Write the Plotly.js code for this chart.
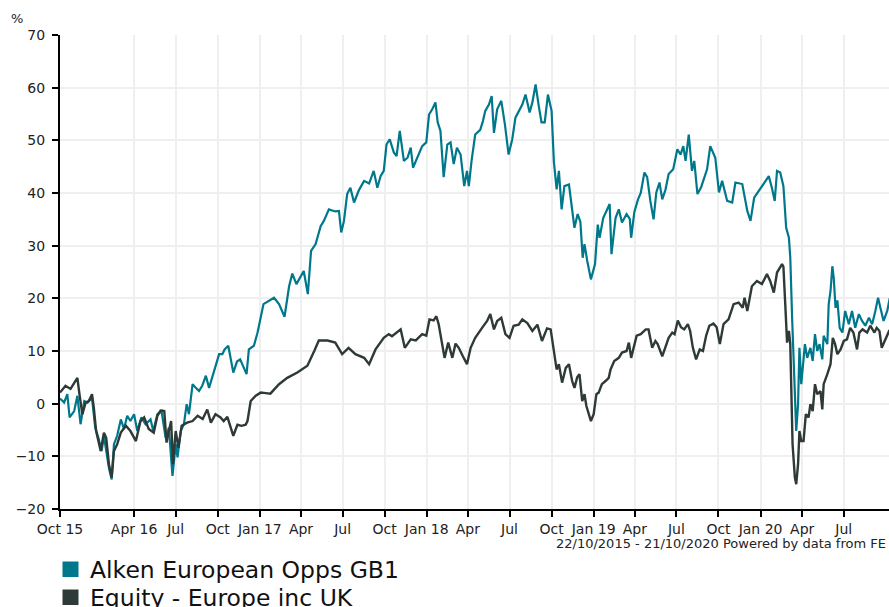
<!DOCTYPE html>
<html>
<head>
<meta charset="utf-8">
<script src="https://cdn.plot.ly/plotly-3.0.1.min.js"></script>
<style>
html,body{margin:0;padding:0;overflow:hidden;background:#fff;}
#chart{width:900px;height:607px;}
</style>
</head>
<body>
<div id="chart"></div>
<script>
// ---- Data ----
const fundName = 'Alken European Opps GB1';
const sectorName = 'Equity - Europe inc UK';

const fundDates = [
'2015-10-22','2015-10-31','2015-11-07','2015-11-12','2015-11-22','2015-11-29','2015-12-06','2015-12-14','2015-12-21','2015-12-31',
'2016-01-07','2016-01-14','2016-01-21','2016-01-26','2016-02-06','2016-02-12','2016-02-17','2016-02-24','2016-03-03','2016-03-10','2016-03-17','2016-03-24','2016-04-01','2016-04-08','2016-04-17','2016-04-26','2016-05-07','2016-05-13','2016-05-22','2016-05-31','2016-06-09','2016-06-16','2016-06-24','2016-07-01','2016-07-05','2016-07-12','2016-07-19','2016-07-25','2016-07-30','2016-08-07','2016-08-14','2016-08-21','2016-08-28','2016-09-05','2016-09-12','2016-09-19','2016-09-26','2016-10-04','2016-10-11','2016-10-16','2016-10-24','2016-11-04','2016-11-12','2016-11-19','2016-12-03','2016-12-08','2016-12-19','2016-12-27',
'2017-01-09','2017-01-24','2017-02-01','2017-02-12','2017-02-24','2017-03-06','2017-03-13','2017-03-22','2017-04-07','2017-04-16','2017-04-23','2017-05-03','2017-05-14','2017-05-21','2017-06-01','2017-06-15','2017-06-23','2017-06-28','2017-07-04','2017-07-11','2017-07-18','2017-07-26','2017-08-06','2017-08-17','2017-08-28','2017-09-07','2017-09-15','2017-09-22','2017-09-29','2017-10-05','2017-10-12','2017-10-21','2017-10-27','2017-11-03','2017-11-12','2017-11-20','2017-11-27','2017-12-02','2017-12-11','2017-12-22','2017-12-31',
'2018-01-06','2018-01-13','2018-01-20','2018-01-25','2018-01-31','2018-02-07','2018-02-15','2018-02-22','2018-03-01','2018-03-08','2018-03-16','2018-03-24','2018-03-30','2018-04-03','2018-04-09','2018-04-17','2018-04-28','2018-05-04','2018-05-09','2018-05-17','2018-05-23','2018-05-28','2018-06-04','2018-06-13','2018-06-21','2018-06-29','2018-07-07','2018-07-14','2018-07-21','2018-07-29','2018-08-05','2018-08-14','2018-08-20','2018-08-27','2018-09-03','2018-09-09','2018-09-16','2018-09-23','2018-10-01','2018-10-06','2018-10-12','2018-10-17','2018-10-23','2018-10-29','2018-11-08','2018-11-13','2018-11-20','2018-11-27','2018-12-03','2018-12-08','2018-12-12','2018-12-18','2018-12-26',
'2019-01-04','2019-01-10','2019-01-14','2019-01-22','2019-01-29','2019-02-05','2019-02-09','2019-02-18','2019-02-25','2019-03-04','2019-03-14','2019-03-21','2019-03-24','2019-03-31','2019-04-08','2019-04-14','2019-04-22','2019-04-28','2019-05-05','2019-05-12','2019-05-18','2019-05-25','2019-05-31','2019-06-07','2019-06-14','2019-06-24','2019-07-03','2019-07-10','2019-07-16','2019-07-21','2019-07-28','2019-08-04','2019-08-09','2019-08-16','2019-08-24','2019-08-31','2019-09-06','2019-09-13','2019-09-20','2019-09-24','2019-10-02','2019-10-09','2019-10-20','2019-10-31','2019-11-07','2019-11-22','2019-12-03','2019-12-10','2019-12-18','2019-12-29',
'2020-01-08','2020-01-19','2020-01-26','2020-02-01','2020-02-06','2020-02-13','2020-02-20','2020-02-26','2020-03-03','2020-03-06','2020-03-10','2020-03-13','2020-03-17','2020-03-19','2020-03-23','2020-03-26','2020-03-30','2020-04-02','2020-04-07','2020-04-12','2020-04-19','2020-04-24','2020-04-29','2020-05-04','2020-05-09','2020-05-15','2020-05-18','2020-05-26','2020-05-29','2020-06-02','2020-06-06','2020-06-09','2020-06-13','2020-06-17','2020-06-22','2020-06-28','2020-07-04','2020-07-12','2020-07-19','2020-07-26','2020-08-03','2020-08-10','2020-08-17','2020-08-25','2020-09-01','2020-09-08','2020-09-14','2020-09-19','2020-09-26','2020-10-04','2020-10-09','2020-10-21'
];
const fundValues = [
1.0,0.2,1.8,-2.6,-1.4,1.5,-3.9,0.5,0.2,1.1,
-4.6,-6.5,-9,-6.1,-12.2,-14.4,-7.7,-6.1,-3,-4.8,-2.3,-3.3,-2,-5.2,-2.6,-3.9,-3,-5.2,-2,-1.4,-6.5,-4.6,-13.7,-7.7,-10.2,-5.2,-3.9,-0.1,-2,3.7,3,2.4,3.4,5.3,3,4.9,6.8,9.4,9.4,10.3,11,5.9,8,8.4,5.6,10.3,11,13.5,
18.9,19.6,20.1,18.9,16.5,22.3,24.7,22.7,25.2,20.8,29,30.3,33.7,34.7,36.9,36.5,36.6,32.5,34.7,39.8,41,38.2,40.6,42.3,41.8,44.2,41,43.2,44.2,49.2,50.2,47.7,47,51.8,46.1,46.7,48.6,44.8,46.7,48.9,49.6,
54.9,55.9,57.2,53.4,51.8,43,49.2,49.6,45.5,48.6,47.3,41.3,44.2,41.3,46.1,51.1,52,53.7,55.6,56.8,58.4,51.4,55.9,57.5,53,47.3,50.2,54.3,55.6,56.8,58.7,55.3,57.2,60.6,56.5,53.4,53.4,58.7,55.6,46,40.7,44.2,36.9,41.3,41.6,38.2,33.4,36,34.5,27.7,30.3,27.1,23.6,
26.5,34,31.5,35.3,36.6,37.9,28.4,35.3,36.9,34.4,36,35.1,31.5,36.4,38.8,40,43.9,43,38.5,35,40.1,42,38.8,40.6,43.6,44.5,48.3,47.3,48.9,46.1,51.1,44.2,46.1,39.8,41.1,43.2,44.5,48.9,47.3,46.7,40.1,42.3,38.5,38.2,42,41.7,36.6,34.7,39.1,40.6,
41.7,43.2,40.9,38.5,44.2,43.9,41.3,33.4,31.5,27.7,16.3,10,-1.4,-5.2,-0.1,10.6,3.7,6.2,11.3,8.7,10.6,8.1,13.2,10,11.3,8.4,12.9,11.3,18.9,21.4,26.1,23.9,18.2,19.6,14.4,13.5,17.6,15.1,17.6,14.4,17,15.7,14.8,16.3,15.1,17.6,20.1,18.2,15.7,17.6,19.8,19.5
];

const sectorDates = [
'2015-10-22','2015-11-03','2015-11-14','2015-11-22','2015-11-29','2015-12-04','2015-12-10','2015-12-17','2015-12-24','2015-12-31',
'2016-01-04','2016-01-09','2016-01-19','2016-01-26','2016-01-31','2016-02-06','2016-02-12','2016-02-17','2016-02-24','2016-03-03','2016-03-14','2016-03-24','2016-04-05','2016-04-15','2016-04-23','2016-05-03','2016-05-14','2016-05-22','2016-05-29','2016-06-06','2016-06-11','2016-06-16','2016-06-21','2016-06-25','2016-07-01','2016-07-07','2016-07-14','2016-07-26','2016-08-07','2016-08-18','2016-08-29','2016-09-08','2016-09-16','2016-09-26','2016-10-07','2016-10-14','2016-10-22','2016-11-04','2016-11-13','2016-11-22','2016-12-01','2016-12-05','2016-12-12','2016-12-23',
'2017-01-03','2017-01-14','2017-01-24','2017-02-12','2017-03-02','2017-03-24','2017-04-15','2017-04-30','2017-05-10','2017-05-29','2017-06-15','2017-06-30','2017-07-14','2017-07-29','2017-08-17','2017-08-28','2017-09-11','2017-09-29','2017-10-10','2017-10-17','2017-11-05','2017-11-14','2017-11-27','2017-12-08','2017-12-22','2017-12-31',
'2018-01-07','2018-01-16','2018-01-22','2018-01-27','2018-02-04','2018-02-09','2018-02-17','2018-02-26','2018-03-05','2018-03-12','2018-03-21','2018-03-27','2018-03-30','2018-04-07','2018-04-17','2018-05-02','2018-05-13','2018-05-20','2018-05-28','2018-06-04','2018-06-13','2018-06-22','2018-07-01','2018-07-10','2018-07-21','2018-07-29','2018-08-09','2018-08-20','2018-08-31','2018-09-10','2018-09-21','2018-09-29','2018-10-06','2018-10-12','2018-10-17','2018-10-24','2018-11-01','2018-11-08','2018-11-15','2018-11-20','2018-11-26','2018-12-01','2018-12-07','2018-12-12','2018-12-16','2018-12-21','2018-12-26',
'2019-01-01','2019-01-07','2019-01-12','2019-01-19','2019-01-27','2019-02-03','2019-02-07','2019-02-15','2019-02-25','2019-03-04','2019-03-14','2019-03-19','2019-03-24','2019-03-30','2019-04-05','2019-04-14','2019-04-25','2019-05-01','2019-05-09','2019-05-16','2019-05-21','2019-05-31','2019-06-07','2019-06-14','2019-06-22','2019-06-27','2019-07-04','2019-07-11','2019-07-18','2019-07-26','2019-07-31','2019-08-06','2019-08-13','2019-08-21','2019-08-28','2019-09-04','2019-09-11','2019-09-20','2019-09-27','2019-10-04','2019-10-12','2019-10-23','2019-11-03','2019-11-14','2019-11-23','2019-11-27','2019-12-03','2019-12-13','2019-12-24',
'2020-01-04','2020-01-15','2020-01-22','2020-01-30','2020-02-06','2020-02-17','2020-02-20','2020-02-24','2020-02-28','2020-03-03','2020-03-06','2020-03-11','2020-03-16','2020-03-19','2020-03-23','2020-03-26','2020-03-30','2020-04-04','2020-04-09','2020-04-15','2020-04-19','2020-04-24','2020-04-29','2020-05-04','2020-05-11','2020-05-15','2020-05-18','2020-05-26','2020-06-02','2020-06-07','2020-06-12','2020-06-17','2020-06-24','2020-07-01','2020-07-08','2020-07-15','2020-07-22','2020-07-30','2020-08-04','2020-08-11','2020-08-21','2020-08-28','2020-09-06','2020-09-11','2020-09-17','2020-09-22','2020-09-28','2020-10-03','2020-10-08','2020-10-21'
];
const sectorValues = [
2.1,3.4,2.8,4,4.9,1.5,-2,0.2,0.5,1.8,
-0.8,-5.2,-9,-5.5,-6.5,-11.5,-14,-9,-7.7,-5.5,-4.2,-5.2,-7.1,-3.3,-2.6,-4.8,-5.5,-2.3,-1.3,-1.4,-7.4,-5.2,-3.3,-11.5,-5.2,-8.4,-4.2,-3.6,-3.3,-2.3,-2.9,-1.1,-3.6,-2,-2.6,-3.3,-2.5,-6.1,-4,-4.2,-4,-3.3,0.5,1.5,
2.1,2.0,1.9,3.7,4.9,5.9,7.2,10,12,12,11.6,9.4,10.6,9.4,8.7,7.5,10.3,12.5,13.2,12.8,14.1,10.6,12.2,12,13.2,12.9,
16,15.8,16.6,15.1,11.3,8.7,11.6,8.7,11.4,10.6,9,8.1,7.5,10.6,12.5,14.4,15.7,17,14.1,15.7,16.3,13.2,12.5,14.8,15,16,15.3,13.8,15,11.9,14.3,14.1,10,6.5,7.5,4,6.8,7.5,4.3,3,5,5.6,0.5,1.8,-0.4,-2,-3.3,
-2,1.8,2.1,3.7,4.3,4.9,6.5,8.1,8.7,9.7,10,11.6,8.7,10.6,12.9,13.2,14.1,14.1,10.6,11.9,11.3,9,10.6,12.5,13.5,13.2,15.8,14.5,14.1,15.1,13.8,10.6,8.4,10.3,10,12.9,14.8,15.2,14.5,11.3,15.1,16,18.9,19.2,18.2,20.1,17.6,22.3,23.3,
22.7,24.6,23.3,21.1,24.9,26.5,26,18.9,11.6,13.8,11.3,-7.7,-14,-15.3,-11.5,-5.2,-7.1,-7.1,-2,-2.6,-0.1,-1.4,3.7,1.8,2.4,-1.1,3.7,5.6,7.5,12.5,11.3,9.4,10.3,11.9,12.2,14.4,13.5,10.3,13.5,14.1,13.5,14.8,13.5,14.4,13.8,10.6,11.9,12.9,13.8,15.0
];

const tickDates = ['2015-10-22','2016-04-01','2016-07-01','2016-10-01','2017-01-01','2017-04-01','2017-07-01','2017-10-01','2018-01-01','2018-04-01','2018-07-01','2018-10-01','2019-01-01','2019-04-01','2019-07-01','2019-10-01','2020-01-01','2020-04-01','2020-07-01'];
const tickLabels = ['Oct 15','Apr 16','Jul','Oct','Jan 17','Apr','Jul','Oct','Jan 18','Apr','Jul','Oct','Jan 19','Apr','Jul','Oct','Jan 20','Apr','Jul'];
const xRange = ['2015-10-22','2020-10-21'];
const yRange = [-20, 70];
const footerText = '22/10/2015 - 21/10/2020 Powered by data from FE';

// ---- Styles ----
const fundColor = '#00788c';
const sectorColor = '#2e3a37';
const W = 900, H = 607;
const M = {l: 60, r: 5, t: 35, b: 98};
const plotW = W - M.l - M.r, plotH = H - M.t - M.b;
const px2x = p => (p - M.l) / plotW;
const px2y = p => (H - M.b - p) / plotH;
const font = 'DejaVu Sans, Verdana, sans-serif';

const traces = [
  {x: fundDates, y: fundValues, type: 'scatter', mode: 'lines', name: fundName,
   line: {color: fundColor, width: 2.2}, hoverinfo: 'skip'},
  {x: sectorDates, y: sectorValues, type: 'scatter', mode: 'lines', name: sectorName,
   line: {color: sectorColor, width: 2.4}, hoverinfo: 'skip'}
];

// legend drawn as shapes + text annotations (pixel positions converted to paper coords)
const legendItems = [
  {name: fundName, color: fundColor, top: 561.5},
  {name: sectorName, color: sectorColor, top: 589.5}
];
const shapes = legendItems.map(it => ({
  type: 'rect', xref: 'paper', yref: 'paper',
  x0: px2x(62.5), x1: px2x(78.5), y0: px2y(it.top), y1: px2y(it.top + 15.5),
  fillcolor: it.color, line: {width: 0}, layer: 'above'
}));
const legendAnnots = legendItems.map(it => ({
  text: it.name, xref: 'paper', yref: 'paper',
  x: px2x(88), y: px2y(it.top + 8), xanchor: 'left', yanchor: 'middle',
  showarrow: false, font: {family: font, size: 23.5, color: '#111'}
}));

const layout = {
  width: W, height: H,
  margin: M,
  paper_bgcolor: '#fff', plot_bgcolor: '#fff',
  font: {family: font, size: 14, color: '#222'},
  showlegend: false,
  xaxis: {
    type: 'date', range: xRange,
    tickmode: 'array', tickvals: tickDates, ticktext: tickLabels, tickangle: 0,
    showgrid: true, gridcolor: '#efefef', gridwidth: 2,
    showline: true, linecolor: '#000', linewidth: 2,
    ticks: 'outside', ticklen: 6, tickwidth: 2, tickcolor: '#000',
    tickfont: {family: font, size: 14, color: '#222'},
    zeroline: false, fixedrange: true, automargin: false
  },
  yaxis: {
    range: yRange, dtick: 10, tick0: 0,
    showgrid: true, gridcolor: '#efefef', gridwidth: 2,
    showline: true, linecolor: '#000', linewidth: 2,
    ticks: 'outside', ticklen: 6, tickwidth: 2, tickcolor: '#000',
    tickfont: {family: font, size: 14, color: '#222'},
    ticklabelstandoff: 4,
    zeroline: false, fixedrange: true, automargin: false
  },
  shapes: shapes,
  annotations: [
    {text: '%', xref: 'paper', yref: 'paper', x: px2x(9), y: px2y(18),
     xanchor: 'left', yanchor: 'middle', showarrow: false,
     font: {family: font, size: 13, color: '#222'}},
    {text: footerText, xref: 'paper', yref: 'paper', x: px2x(554), y: px2y(543),
     xanchor: 'left', yanchor: 'middle', showarrow: false,
     font: {family: font, size: 13, color: '#222'}}
  ].concat(legendAnnots)
};

Plotly.newPlot('chart', traces, layout, {displayModeBar: false, staticPlot: true});
</script>
</body>
</html>
